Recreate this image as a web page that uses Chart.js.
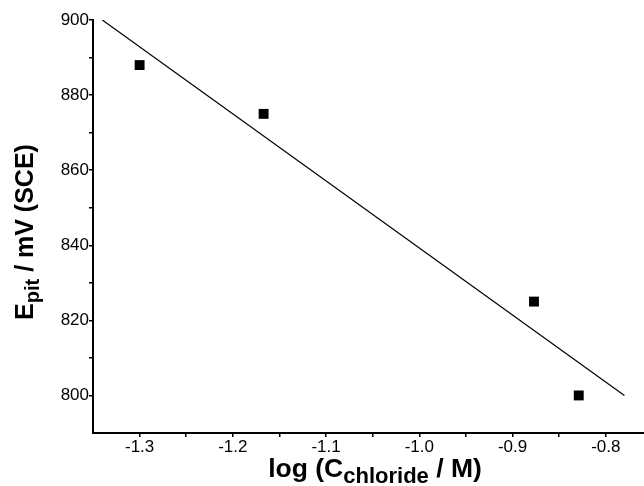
<!DOCTYPE html>
<html>
<head>
<meta charset="utf-8">
<title>Pitting potential vs chloride concentration</title>
<script src="https://cdn.jsdelivr.net/npm/chart.js@4"></script>
<style>
  html, body { margin: 0; padding: 0; background: #fff; }
  #wrap { width: 644px; height: 486px; }
</style>
</head>
<body>
<div id="wrap"><canvas id="pitChart" width="644" height="486"></canvas></div>
<script>
// measured points: log of chloride molarity vs pitting potential (mV vs SCE)
const logChloride = [-1.30, -1.167, -0.877, -0.829];
const ePit = [888, 875, 825, 800];

// least-squares line as drawn (two end points)
const fitX = [-1.34, -0.78];
const fitY = [900, 800];

// axis ticks: every tick value, and the ones that carry a label
const xTickValues = [-1.3, -1.25, -1.2, -1.15, -1.1, -1.05, -1.0, -0.95, -0.9, -0.85, -0.8];
const xTickLabels = {'-1.3': '-1.3', '-1.2': '-1.2', '-1.1': '-1.1', '-1': '-1.0', '-0.9': '-0.9', '-0.8': '-0.8'};
const yTickValues = [800, 810, 820, 830, 840, 850, 860, 870, 880, 890, 900];
const yTickLabels = ['800', '820', '840', '860', '880', '900'];

const FONT = '"Liberation Sans", Arial, Helvetica, sans-serif';

// axis titles need subscripts, so they are drawn by hand
function richWidth(ctx, parts, size, subSize){
  let w = 0;
  parts.forEach(p => {
    ctx.font = 'bold ' + (p.sub ? subSize : size) + 'px ' + FONT;
    w += ctx.measureText(p.t).width;
  });
  return w;
}
function drawRich(ctx, parts, cx, baseY, size, subSize, subDrop){
  let x = cx - richWidth(ctx, parts, size, subSize) / 2;
  ctx.textAlign = 'left';
  ctx.textBaseline = 'alphabetic';
  ctx.fillStyle = '#000';
  parts.forEach(p => {
    ctx.font = 'bold ' + (p.sub ? subSize : size) + 'px ' + FONT;
    ctx.fillText(p.t, x, baseY + (p.sub ? subDrop : 0));
    x += ctx.measureText(p.t).width;
  });
}

const axisTitles = {
  id: 'axisTitles',
  afterDraw(chart){
    const ctx = chart.ctx;
    const area = chart.chartArea;
    ctx.save();
    drawRich(ctx, [{t: 'log (C'}, {t: 'chloride', sub: true}, {t: ' / M)'}],
      area.left + 282, 477, 26.5, 22, 6);
    ctx.translate(33, 232);
    ctx.rotate(-Math.PI / 2);
    drawRich(ctx, [{t: 'E'}, {t: 'pit', sub: true}, {t: ' / mV (SCE)'}],
      0, 0, 25, 20, 6);
    ctx.restore();
  }
};

const points = logChloride.map((x, i) => ({x: x, y: ePit[i]}));
const fitLine = fitX.map((x, i) => ({x: x, y: fitY[i]}));

function axisStyle(){
  return {
    grid: { drawOnChartArea: false, drawTicks: true, tickLength: 4, color: '#000', lineWidth: 1.5 },
    border: { color: '#000', width: 2 },
    ticks: { color: '#000', font: { family: FONT, size: 17 }, maxRotation: 0, autoSkip: false }
  };
}

const xAxis = axisStyle();
Object.assign(xAxis, {
  type: 'linear', min: -1.35, max: -0.759,
  afterBuildTicks: s => { s.ticks = xTickValues.map(v => ({value: v})); },
  afterFit: s => { s.height = 53; s.paddingRight = 0; s.paddingLeft = 0; }
});
xAxis.ticks.padding = 0;
xAxis.ticks.callback = v => xTickLabels[String(Math.round(v * 100) / 100)] || '';

const yAxis = axisStyle();
Object.assign(yAxis, {
  type: 'linear', min: 790, max: 900,
  afterBuildTicks: s => { s.ticks = yTickValues.map(v => ({value: v})); },
  afterFit: s => { s.width = 93; }
});
yAxis.ticks.padding = 0;
yAxis.ticks.callback = v => yTickLabels.includes(String(v)) ? String(v) : '';

new Chart(document.getElementById('pitChart'), {
  type: 'scatter',
  data: {
    datasets: [
      {
        data: points,
        pointStyle: 'rect',
        pointRadius: 7,
        backgroundColor: '#000',
        borderColor: '#000',
        borderWidth: 0
      },
      {
        type: 'line',
        data: fitLine,
        borderColor: '#000',
        borderWidth: 1.2,
        pointRadius: 0,
        fill: false
      }
    ]
  },
  options: {
    responsive: false,
    animation: false,
    devicePixelRatio: 1,
    layout: { autoPadding: false, padding: { top: 20, right: 0, bottom: 0, left: 0 } },
    plugins: { legend: { display: false }, tooltip: { enabled: false } },
    scales: { x: xAxis, y: yAxis }
  },
  plugins: [axisTitles]
});
</script>
</body>
</html>
